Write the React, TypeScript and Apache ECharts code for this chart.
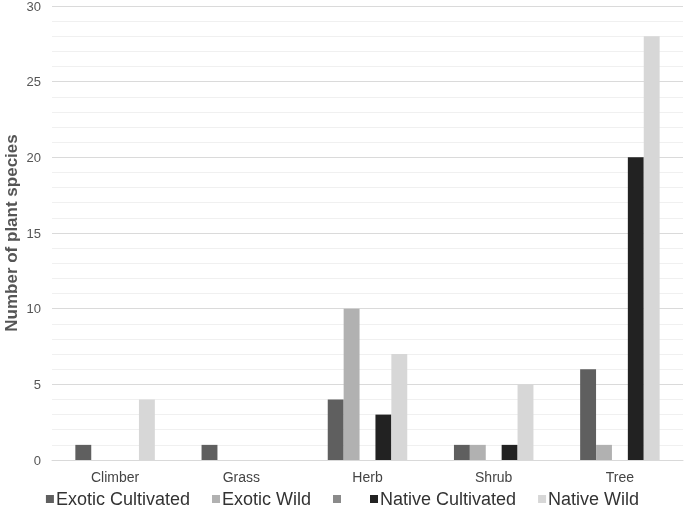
import React, { useEffect, useRef } from "react";
import * as echarts from "echarts";

const categories = ["Climber", "Grass", "Herb", "Shrub", "Tree"];
const seriesNames = ["Exotic Cultivated", "Exotic Wild", " ", "Native Cultivated", "Native Wild"];
const exoticCultivated = [1, 1, 4, 1, 6];
const exoticWild = [0, 0, 10, 1, 1];
const unnamed = [0, 0, 0, 0, 0];
const nativeCultivated = [0, 0, 3, 1, 20];
const nativeWild = [4, 0, 7, 5, 28];
const seriesValues = [exoticCultivated, exoticWild, unnamed, nativeCultivated, nativeWild];
const colors = ["#5f5f5f", "#b1b1b1", "#8a8a8a", "#222222", "#d7d7d7"];
const yTicks = { min: 0, max: 30, interval: 5 };

export default function App() {
  const ref = useRef<HTMLDivElement>(null);
  useEffect(() => {
    if (!ref.current) return;
    const chart = echarts.init(ref.current, null, { renderer: "svg" });
    chart.setOption({
      animation: false,
      textStyle: { fontFamily: "Liberation Sans, Arial, sans-serif" },
      grid: { left: 52, right: 2, top: 6, bottom: 49, containLabel: false, outerBoundsMode: "none" },
      legend: {
        bottom: -4,
        left: "center",
        itemWidth: 8,
        itemHeight: 8,
        itemGap: 22,
        icon: "rect",
        textStyle: { fontSize: 18, color: "#333", padding: [0, 0, 0, -3] },
        data: seriesNames,
      },
      xAxis: {
        type: "category",
        data: categories,
        axisLine: { show: true, lineStyle: { color: "#d9d9d9" } },
        axisTick: { show: false },
        axisLabel: { fontSize: 14, color: "#444", margin: 10 },
      },
      yAxis: {
        type: "value",
        min: yTicks.min,
        max: yTicks.max,
        interval: yTicks.interval,
        name: "Number of plant species",
        nameLocation: "middle",
        nameGap: 32,
        nameMoveOverlap: false,
        nameTextStyle: { fontSize: 17, fontWeight: "bold", color: "#555" },
        axisLabel: { fontSize: 13, color: "#555", margin: 11 },
        axisLine: { show: false },
        axisTick: { show: false },
        splitLine: { lineStyle: { color: "#dadada" } },
        minorTick: { show: false, splitNumber: 5 },
        minorSplitLine: { show: true, lineStyle: { color: "#f0f0f0" } },
      },
      series: seriesNames.map((name, i) => ({
        name,
        type: "bar",
        data: seriesValues[i],
        barGap: "0%",
        barCategoryGap: "37%",
        itemStyle: { color: colors[i] },
      })),
    });
    return () => chart.dispose();
  }, []);
  return <div ref={ref} style={{ position: "fixed", left: 0, top: 0, width: 685, height: 509 }} />;
}
